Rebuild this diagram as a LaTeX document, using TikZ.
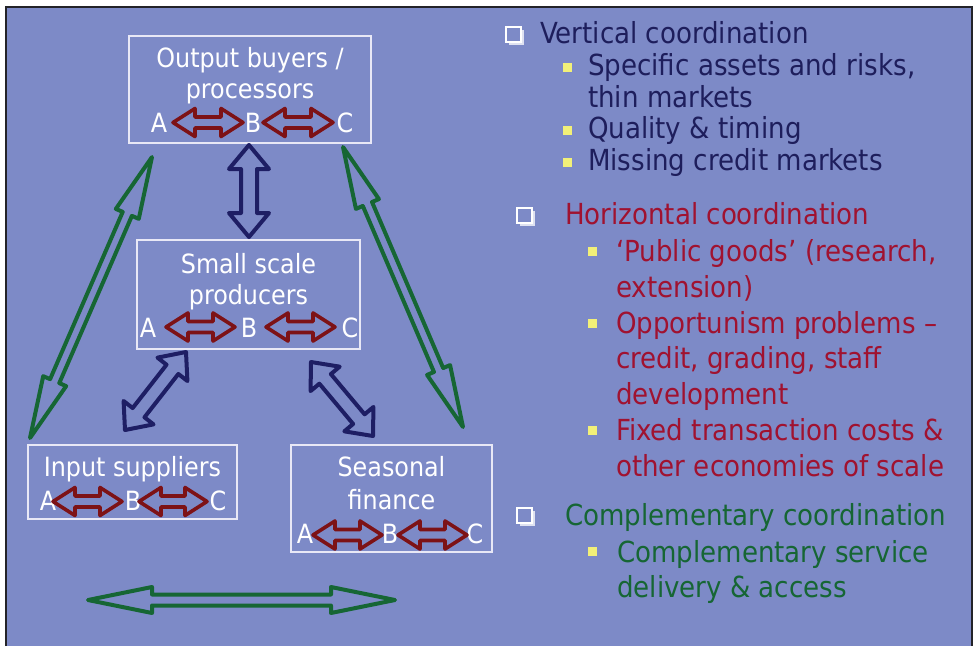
\documentclass[tikz,border=0pt]{standalone}
\usepackage{fontspec}
\setmainfont{DejaVu Sans Condensed}
\usetikzlibrary{calc}
\definecolor{bg}{RGB}{125,138,199}
\definecolor{frame}{RGB}{35,35,40}
\definecolor{navy}{RGB}{30,30,92}
\definecolor{navyarrow}{RGB}{30,30,100}
\definecolor{crim}{RGB}{160,18,48}
\definecolor{redarrow}{RGB}{125,18,22}
\definecolor{grn}{RGB}{22,102,52}
\definecolor{boxline}{RGB}{232,232,246}
\definecolor{ybul}{RGB}{242,240,120}
\newcommand\blockarrow[6]{%
  \coordinate (ba-h1) at ($(#2)!#4!(#3)$);
  \coordinate (ba-h2) at ($(#3)!#4!(#2)$);
  \draw[#1] (#2) -- ($(ba-h1)!#5!90:(#3)$) -- ($(ba-h1)!#6!90:(#3)$)
    -- ($(ba-h2)!#6!-90:(#2)$) -- ($(ba-h2)!#5!-90:(#2)$) -- (#3)
    -- ($(ba-h2)!#5!90:(#2)$) -- ($(ba-h2)!#6!90:(#2)$)
    -- ($(ba-h1)!#6!-90:(#3)$) -- ($(ba-h1)!#5!-90:(#3)$) -- cycle;}
\newcommand\redarrow[2]{\blockarrow{redstyle}{#1}{#2}{22pt}{14pt}{5.5pt}}
\newcommand\hollowbullet[2]{%
  \draw[white!75!bg, line width=2.4pt] (#1-5.5,#2+8.5) -- (#1+8.5,#2+8.5) -- (#1+8.5,#2-5.5);
  \draw[white, line width=1.8pt] (#1-8,#2-8) rectangle (#1+7,#2+7);}
\newcommand\ybullet[2]{\fill[ybul] (#1-4.5,#2-4.5) rectangle (#1+4.5,#2+4.5);}
\tikzset{
  box/.style={draw=boxline, line width=1.2pt, inner sep=0pt},
  wt/.style={text=white, font=\fontsize{26.5}{30}\selectfont, inner sep=0pt, anchor=base},
  rt/.style={font=\fontsize{29}{32}\selectfont, inner sep=0pt, anchor=base west},
  redstyle/.style={draw=redarrow, line width=3.6pt, line join=round},
  navystyle/.style={draw=navyarrow, line width=4pt, line join=round},
  grnstyle/.style={draw=grn, line width=4pt, line join=round},
}
\begin{document}
\begin{tikzpicture}[x=1pt,y=-1pt]
\useasboundingbox (0,0) rectangle (977,646);
\fill[white] (0,0) rectangle (977,646);
\fill[bg] (6,7) rectangle (972,646);
\draw[frame, line width=2.6pt] (6,646) -- (6,7) -- (972,7) -- (972,646);

% ---------- boxes ----------
\node[box, minimum width=242pt, minimum height=107pt] (ob) at (250,89.5) {};
\node[wt] (ob1) at (250,67) {Output buyers /};
\node[wt] (ob2) at (250,98) {processors};
\node[wt] (obA) at (159,132) {A};
\node[wt] (obB) at (253,132) {B};
\node[wt] (obC) at (345,132) {C};

\node[box, minimum width=223pt, minimum height=109pt] (sp) at (248.5,294.5) {};
\node[wt] (sp1) at (248.5,273) {Small scale};
\node[wt] (sp2) at (248.5,304) {producers};
\node[wt] (spA) at (148,337) {A};
\node[wt] (spB) at (249,337) {B};
\node[wt] (spC) at (350,337) {C};

\node[box, minimum width=209pt, minimum height=74pt] (is) at (132.5,482) {};
\node[wt] (is1) at (132.5,476) {Input suppliers};
\node[wt] (isA) at (48,510) {A};
\node[wt] (isB) at (133,510) {B};
\node[wt] (isC) at (218,510) {C};

\node[box, minimum width=201pt, minimum height=107pt] (sf) at (391.5,498.5) {};
\node[wt] (sf1) at (391.5,476) {Seasonal};
\node[wt] (sf2) at (391.5,509) {finance};
\node[wt] (sfA) at (305,543) {A};
\node[wt] (sfB) at (390,543) {B};
\node[wt] (sfC) at (475,543) {C};

% ---------- red arrows inside boxes ----------
\coordinate (r1a) at (173,122.5); \coordinate (r1b) at (243,122.5);
\coordinate (r2a) at (263,122.5); \coordinate (r2b) at (333,122.5);
\coordinate (r3a) at (166,327);   \coordinate (r3b) at (235,327);
\coordinate (r4a) at (266,327);   \coordinate (r4b) at (335,327);
\coordinate (r5a) at (53,501.5);  \coordinate (r5b) at (122,501.5);
\coordinate (r6a) at (139,501.5); \coordinate (r6b) at (207,501.5);
\coordinate (r7a) at (313,535);   \coordinate (r7b) at (382,535);
\coordinate (r8a) at (398,535);   \coordinate (r8b) at (467,535);
\redarrow{r1a}{r1b}\redarrow{r2a}{r2b}
\redarrow{r3a}{r3b}\redarrow{r4a}{r4b}
\redarrow{r5a}{r5b}\redarrow{r6a}{r6b}
\redarrow{r7a}{r7b}\redarrow{r8a}{r8b}

% ---------- navy arrows ----------
\coordinate (n1a) at (249,145); \coordinate (n1b) at (249,237);
\coordinate (n2a) at (186,352); \coordinate (n2b) at (125,430);
\coordinate (n3a) at (311,362); \coordinate (n3b) at (373,436);
\blockarrow{navystyle}{n1a}{n1b}{24pt}{20pt}{8pt}
\blockarrow{navystyle}{n2a}{n2b}{22pt}{19pt}{7.5pt}
\blockarrow{navystyle}{n3a}{n3b}{22pt}{19pt}{7.5pt}

% ---------- green arrows ----------
\coordinate (g1a) at (152,157); \coordinate (g1b) at (30,438);
\coordinate (g2a) at (343,147); \coordinate (g2b) at (463,427);
\coordinate (g3a) at (88,600);  \coordinate (g3b) at (395,600);
\blockarrow{grnstyle}{g1a}{g1b}{62pt}{12.5pt}{5pt}
\blockarrow{grnstyle}{g2a}{g2b}{62pt}{12.5pt}{5pt}
\blockarrow{grnstyle}{g3a}{g3b}{64pt}{13pt}{5.5pt}

% ---------- right column ----------
\hollowbullet{514}{35}
\node[rt, text=navy] (v0) at (540,43) {Vertical coordination};
\ybullet{567}{67}
\node[rt, text=navy] (v1) at (588,75) {Specific assets and risks,};
\node[rt, text=navy] (v2) at (588,107) {thin markets};
\ybullet{567}{130}
\node[rt, text=navy] (v3) at (588,138) {Quality \& timing};
\ybullet{567}{162}
\node[rt, text=navy] (v4) at (588,170) {Missing credit markets};

\hollowbullet{525}{216}
\node[rt, text=crim] (h0) at (565,224) {Horizontal coordination};
\ybullet{592}{251}
\node[rt, text=crim] (h1) at (616,261) {‘Public goods’ (research,};
\node[rt, text=crim] (h2) at (616,297) {extension)};
\ybullet{592}{323}
\node[rt, text=crim] (h3) at (616,333) {Opportunism problems –};
\node[rt, text=crim] (h4) at (616,368) {credit, grading, staff};
\node[rt, text=crim] (h5) at (616,404) {development};
\ybullet{592}{430}
\node[rt, text=crim] (h6) at (616,440) {Fixed transaction costs \&};
\node[rt, text=crim] (h7) at (616,476) {other economies of scale};

\hollowbullet{525}{516}
\node[rt, text=grn] (c0) at (565,525) {Complementary coordination};
\ybullet{592}{551}
\node[rt, text=grn] (c1) at (617,562) {Complementary service};
\node[rt, text=grn] (c2) at (617,597) {delivery \& access};
\end{tikzpicture}
\end{document}
